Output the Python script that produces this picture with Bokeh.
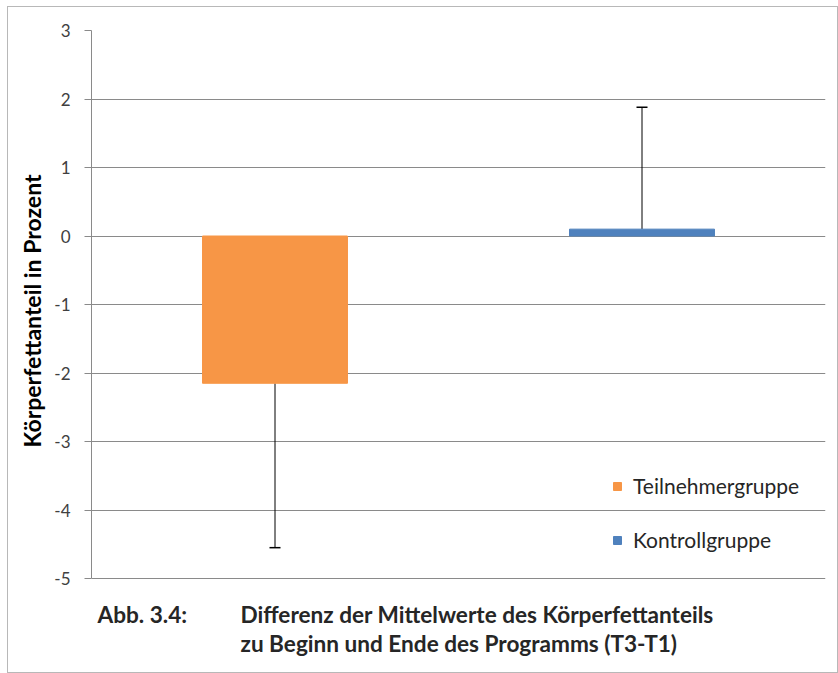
from bokeh.plotting import figure
from bokeh.models import (ColumnDataSource, FactorRange, Range1d, FixedTicker,
                          Whisker, TeeHead, Label, Legend, LegendItem, Title)
from bokeh.embed import file_html
from bokeh.resources import INLINE

groups = ["Teilnehmergruppe", "Kontrollgruppe"]
means = [-2.15, 0.10]
err_ends = [-4.55, 1.88]
colors = ["#F79646", "#4F81BD"]
y_ticks = [-5, -4, -3, -2, -1, 0, 1, 2, 3]
y_tick_labels = ["-5", "-4", "-3", "-2", "-1", "0", "1", "2", "3"]
y_title = "Körperfettanteil in Prozent"
caption_label = "Abb. 3.4:"
caption_lines = ["Differenz der Mittelwerte des Körperfettanteils",
                 "zu Beginn und Ende des Programms (T3-T1)"]

FONT = "Lato"

# layout (pixels)
FRAME_W = 734
AXIS_H = 548            # pixel height of the -5..3 axis span
FRAME_H = 642           # frame extends below the axis to hold the caption
y_lo, y_hi = y_ticks[0], y_ticks[-1]
px_per_unit = AXIS_H / (y_hi - y_lo)
y_start = y_hi - FRAME_H / px_per_unit

src = ColumnDataSource(dict(group=groups, mean=means, color=colors))

p = figure(frame_width=FRAME_W, frame_height=FRAME_H,
           output_backend="svg", toolbar_location=None,
           x_range=FactorRange(factors=groups, range_padding=0),
           y_range=Range1d(y_start, y_hi),
           min_border_left=83, min_border_top=23, min_border_right=12,
           min_border_bottom=0)
p.styles = {"border": "1px solid #b8b8b8", "margin-left": "7px", "margin-top": "6px"}
p.outline_line_color = None
p.background_fill_color = "white"
p.border_fill_color = "white"

bars = p.vbar(x="group", top="mean", bottom=0, width=0.395, color="color", source=src)

# error bars (one-sided)
lo_src = ColumnDataSource(dict(group=[groups[0]], lower=[err_ends[0]], upper=[means[0]]))
hi_src = ColumnDataSource(dict(group=[groups[1]], lower=[means[1]], upper=[err_ends[1]]))
w1 = Whisker(base="group", lower="lower", upper="upper", source=lo_src,
             line_color="black", line_width=1,
             lower_head=TeeHead(size=11, line_color="black", line_width=1.5), upper_head=None)
w2 = Whisker(base="group", lower="lower", upper="upper", source=hi_src,
             line_color="black", line_width=1,
             upper_head=TeeHead(size=11, line_color="black", line_width=1.5), lower_head=None)
p.add_layout(w1)
p.add_layout(w2)

p.xaxis.visible = False
p.xgrid.visible = False
p.ygrid.ticker = FixedTicker(ticks=y_ticks)
p.ygrid.grid_line_color = "#8a8a8a"
p.ygrid.grid_line_width = 1

ax = p.yaxis[0]
ax.ticker = FixedTicker(ticks=y_ticks)
ax.bounds = (y_lo, y_hi)
ax.major_label_overrides = {t: s for t, s in zip(y_ticks, y_tick_labels)}
ax.axis_line_color = "#8a8a8a"
ax.major_tick_line_color = "#8a8a8a"
ax.major_tick_out = 7
ax.major_tick_in = 0
ax.minor_tick_line_color = None
ax.major_label_text_font = FONT
ax.major_label_text_font_size = "17px"
ax.major_label_text_color = "#404040"
ax.major_label_standoff = 14

# y-axis title, centred on the -5..3 span (not the whole frame)
ytitle = Title(text=y_title, align="left", offset=225, standoff=12,
               text_font=FONT, text_font_style="bold", text_font_size="23px",
               text_color="black")
p.add_layout(ytitle, "left")

legend = Legend(items=[LegendItem(label=groups[i], renderers=[bars], index=i) for i in range(2)],
                location=(521, 120), orientation="vertical")
legend.background_fill_alpha = 0
legend.border_line_color = None
legend.padding = 0
legend.margin = 0
legend.glyph_width = 10
legend.glyph_height = 10
legend.label_height = 20
legend.spacing = 29
legend.label_standoff = 11
legend.label_text_font = FONT
legend.label_text_font_size = "21px"
legend.label_text_color = "#262626"
p.add_layout(legend)

p.add_layout(Label(x=6, y=58, x_units="screen", y_units="screen", text=caption_label,
                   text_font=FONT, text_font_style="bold", text_font_size="22.6px",
                   text_color="#262626", text_baseline="middle"))
for i, line in enumerate(caption_lines):
    p.add_layout(Label(x=149, y=58 - 29 * i, x_units="screen", y_units="screen", text=line,
                       text_font=FONT, text_font_style="bold", text_font_size="22.6px",
                       text_color="#262626", text_baseline="middle"))

open("out.html", "w").write(file_html(p, INLINE))
